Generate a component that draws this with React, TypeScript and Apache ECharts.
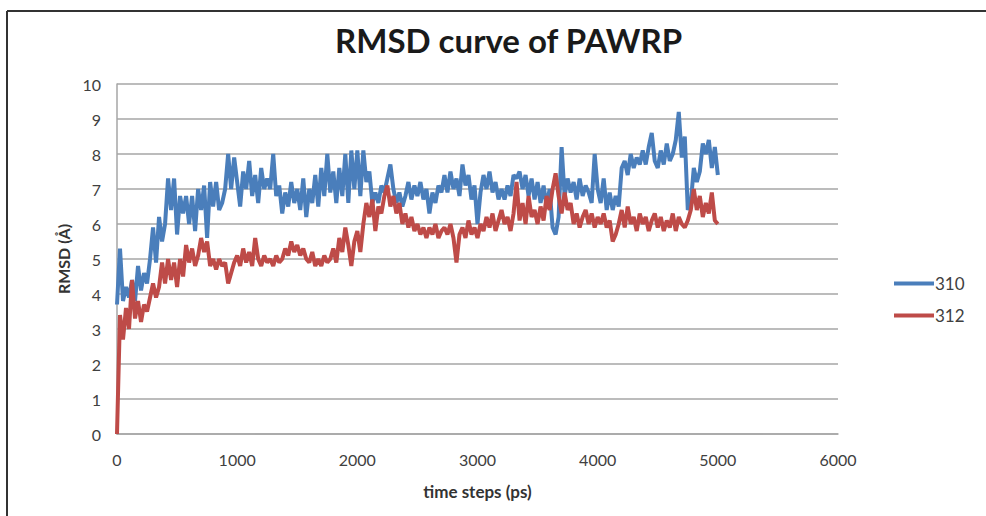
import React, { useEffect, useRef } from "react";
import * as echarts from "echarts";

const titleText = "RMSD curve of PAWRP";
const xAxisName = "time steps (ps)";
const yAxisName = "RMSD (Å)";
const seriesNames = ["310", "312"];
const timeStepPs = 25;

const rmsd310 = [
  3.7, 5.3, 3.8, 4.2, 3.9, 4.4, 3.8, 4.8, 4.1, 4.6,
  4.3, 5.0, 5.9, 4.9, 6.2, 5.5, 6.0, 7.3, 6.4, 7.3,
  5.7, 6.8, 6.3, 6.8, 6.0, 6.8, 5.8, 7.0, 6.4, 7.1,
  5.6, 7.2, 6.5, 7.2, 6.4, 6.6, 7.0, 8.0, 7.0, 7.9,
  7.2, 6.5, 7.5, 7.0, 7.8, 6.8, 7.4, 6.6, 7.6, 7.0,
  7.3, 7.0, 8.0, 6.8, 7.1, 6.3, 6.9, 6.5, 7.2, 6.6,
  7.0, 6.4, 7.3, 6.2, 7.0, 6.6, 7.4, 6.5, 7.6, 6.8,
  8.0, 6.9, 7.5, 6.6, 7.6, 6.8, 8.0, 6.6, 8.1, 7.0,
  8.1, 6.8, 8.1, 7.2, 7.5, 6.6, 6.9, 6.6, 7.1, 6.9,
  7.3, 7.7, 7.0, 6.6, 6.9, 6.5, 6.8, 7.2, 6.7, 7.1,
  6.8, 7.2, 6.7, 7.0, 6.3, 6.9, 6.6, 7.1, 6.9, 7.4,
  6.9, 7.5, 7.0, 7.3, 6.8, 7.7, 7.1, 7.4, 6.7, 7.1,
  6.0, 6.9, 7.4, 7.0, 7.5, 6.9, 7.2, 6.7, 7.0, 6.7,
  7.1, 6.8, 7.4, 7.3, 7.5, 7.0, 7.4, 6.8, 7.3, 6.7,
  7.2, 6.6, 7.1, 6.5, 7.0, 5.9, 5.7, 6.2, 8.2, 6.8,
  7.3, 6.9, 7.2, 6.7, 7.3, 6.8, 7.1, 6.9, 6.6, 8.0,
  7.0, 6.6, 7.3, 6.4, 6.9, 6.4, 6.8, 6.5, 7.6, 7.8,
  7.4, 8.0, 7.6, 7.9, 7.7, 8.1, 7.7, 8.2, 8.6, 7.8,
  7.6, 8.1, 7.7, 8.3, 7.8, 8.0, 8.4, 9.2, 7.9, 8.5,
  6.4, 6.6, 7.6, 7.2, 7.5, 8.3, 8.0, 8.4, 7.6, 8.2, 7.4,
];

const rmsd312 = [
  0.0, 3.4, 2.7, 3.6, 3.0, 4.4, 3.3, 3.8, 3.2, 3.7,
  3.5, 3.9, 4.3, 3.9, 4.2, 4.9, 4.3, 5.0, 4.4, 4.9,
  4.2, 5.0, 4.5, 5.4, 4.9, 5.3, 4.8, 5.1, 5.6, 5.2,
  5.5, 4.8, 5.0, 4.7, 5.0, 4.8, 4.9, 4.3, 4.6, 4.9,
  5.1, 4.8, 5.3, 4.9, 5.2, 4.8, 5.6, 5.0, 4.8, 5.1,
  4.9, 5.0, 4.8, 5.1, 4.9, 5.0, 5.3, 5.1, 5.5, 5.2,
  5.4, 5.1, 5.3, 5.0, 4.9, 5.2, 4.8, 5.0, 4.8, 5.1,
  4.9, 5.0, 5.3, 4.9, 5.6, 5.2, 5.9, 5.4, 4.8, 5.5,
  5.8, 5.2, 6.0, 6.6, 6.2, 6.7, 5.8, 6.5, 6.3, 6.8,
  7.1, 6.5, 6.8, 6.3, 6.6, 6.0, 6.3, 5.9, 6.2, 5.8,
  6.0, 5.7, 5.9, 5.6, 5.9, 5.7, 6.0, 5.6, 5.8, 5.9,
  5.7, 6.0, 5.6, 4.9, 5.7, 5.9, 5.6, 6.1, 5.7, 5.9,
  5.6, 6.0, 5.8, 6.2, 5.9, 6.3, 5.8, 6.1, 6.4, 6.0,
  6.2, 5.8, 6.3, 7.2, 6.1, 6.6, 6.0, 6.8, 6.2, 6.4,
  6.0, 6.5, 6.1, 6.8, 6.4, 7.0, 7.45, 6.8, 6.3, 6.9,
  6.4, 6.6, 6.0, 6.3, 5.9, 6.2, 6.4, 6.0, 6.3, 5.9,
  6.2, 6.0, 6.3, 5.9, 6.1, 5.5, 5.7, 6.0, 6.4, 5.9,
  6.5, 6.0, 6.2, 5.8, 6.3, 6.0, 6.2, 5.8, 6.1, 6.3,
  5.9, 6.2, 5.8, 6.1, 5.9, 6.3, 5.8, 6.2, 6.0, 5.9,
  6.1, 6.4, 7.0, 6.4, 6.8, 6.2, 6.6, 6.3, 6.9, 6.1, 6.0,
];

const colors = ["#4A7EBB", "#BE4B48"];
const FONT = "Lato, 'Open Sans', sans-serif";

function toPairs(values: number[]) {
  return values.map((v, i) => [i * timeStepPs, v]);
}

export default function App() {
  const ref = useRef<HTMLDivElement>(null);

  useEffect(() => {
    if (!ref.current) return;
    const chart = echarts.init(ref.current, undefined, { renderer: "svg" });
    chart.setOption({
      animation: false,
      backgroundColor: "#ffffff",
      textStyle: { fontFamily: FONT },
      title: {
        text: titleText,
        left: 330,
        top: 18,
        itemGap: 0,
        textStyle: {
          fontFamily: FONT,
          fontSize: 33,
          fontWeight: "bold",
          color: "#1a1a1a",
        },
      },
      legend: {
        orient: "vertical",
        left: 889,
        top: 270,
        itemWidth: 40,
        itemHeight: 4,
        itemGap: 15,
        icon: "rect",
        textStyle: { fontFamily: FONT, fontSize: 17, color: "#404040", padding: [0, 0, 0, -4] },
        data: seriesNames,
      },
      grid: { left: 117, right: 148, top: 84, bottom: 82 },
      xAxis: {
        type: "value",
        min: 0,
        max: 6000,
        interval: 1000,
        name: xAxisName,
        nameLocation: "middle",
        nameGap: 49,
        nameTextStyle: { fontFamily: FONT, fontSize: 17, fontWeight: "bold", color: "#333" },
        axisLine: { show: true, lineStyle: { color: "#a6a6a6", width: 1.5 } },
        axisTick: { show: false },
        splitLine: { show: false },
        axisLabel: {
          fontFamily: FONT,
          fontSize: 16,
          color: "#404040",
          margin: 17,
          formatter: (v: number) => String(v),
        },
      },
      yAxis: {
        type: "value",
        min: 0,
        max: 10,
        interval: 1,
        name: yAxisName,
        nameLocation: "middle",
        nameGap: 46,
        nameTextStyle: { fontFamily: FONT, fontSize: 16, fontWeight: "bold", color: "#333" },
        axisLine: { show: true, lineStyle: { color: "#a6a6a6", width: 1.5 } },
        axisTick: { show: false },
        splitLine: { show: true, lineStyle: { color: "#a6a6a6", width: 1.5 } },
        axisLabel: { fontFamily: FONT, fontSize: 16, color: "#404040", margin: 16 },
      },
      series: [
        {
          name: seriesNames[0],
          type: "line",
          data: toPairs(rmsd310),
          showSymbol: false,
          symbol: "none",
          itemStyle: { color: colors[0] },
          lineStyle: { color: colors[0], width: 4 },
          z: 2,
        },
        {
          name: seriesNames[1],
          type: "line",
          data: toPairs(rmsd312),
          showSymbol: false,
          symbol: "none",
          itemStyle: { color: colors[1] },
          lineStyle: { color: colors[1], width: 4 },
          z: 3,
        },
      ],
      graphic: [
        {
          type: "line",
          shape: { x1: 7, y1: 11, x2: 986, y2: 11 },
          style: { stroke: "#333", lineWidth: 2 },
        },
        {
          type: "line",
          shape: { x1: 7, y1: 11, x2: 7, y2: 516 },
          style: { stroke: "#333", lineWidth: 2 },
        },
      ],
    });
    return () => chart.dispose();
  }, []);

  return (
    <div
      ref={ref}
      style={{ position: "fixed", left: 0, top: 0, width: 986, height: 516 }}
    />
  );
}
